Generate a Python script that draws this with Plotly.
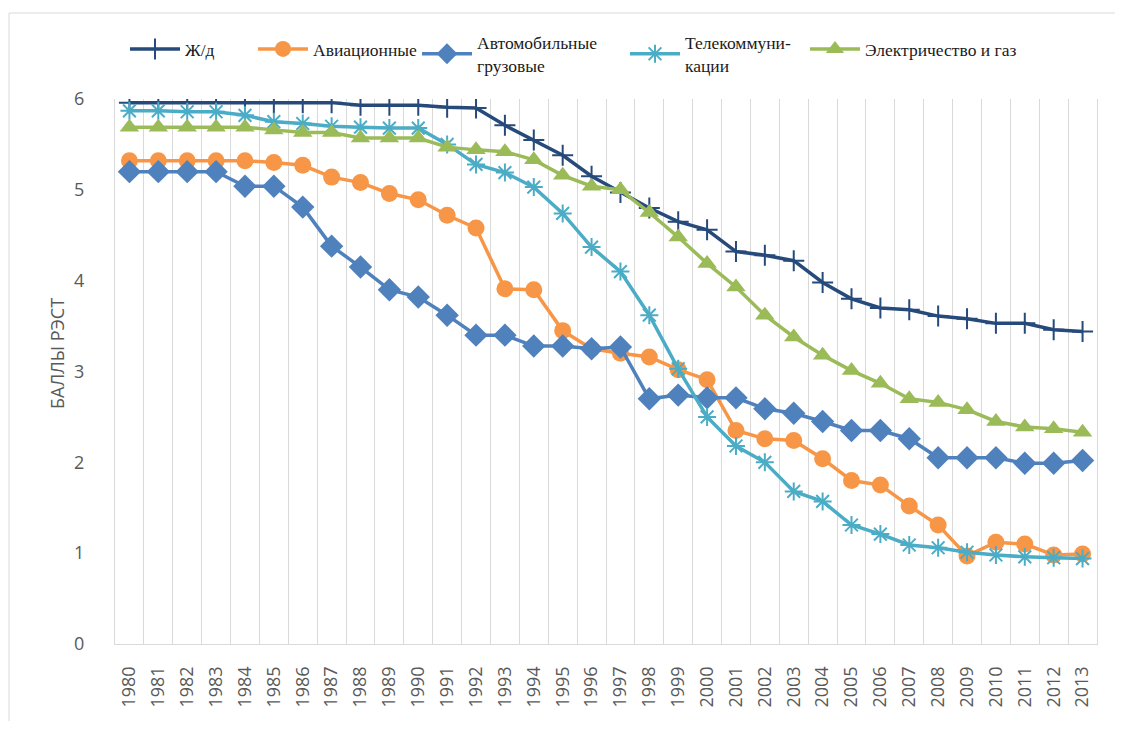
import plotly.graph_objects as go

years = [str(y) for y in range(1980, 2014)]

rail = [5.96, 5.96, 5.96, 5.96, 5.96, 5.96, 5.96, 5.96, 5.93, 5.93,
        5.93, 5.91, 5.90, 5.71, 5.55, 5.38, 5.15, 4.97, 4.80, 4.65,
        4.56, 4.32, 4.28, 4.22, 3.98, 3.80, 3.70, 3.68, 3.61, 3.58,
        3.53, 3.53, 3.46, 3.44]
aviation = [5.32, 5.32, 5.32, 5.32, 5.32, 5.30, 5.27, 5.14, 5.08, 4.96,
            4.89, 4.72, 4.58, 3.91, 3.90, 3.45, 3.25, 3.20, 3.16, 3.02,
            2.91, 2.35, 2.26, 2.24, 2.04, 1.80, 1.75, 1.52, 1.31, 0.97,
            1.12, 1.10, 0.98, 0.99]
trucks = [5.20, 5.20, 5.20, 5.20, 5.04, 5.04, 4.81, 4.38, 4.15, 3.90,
          3.82, 3.62, 3.40, 3.40, 3.28, 3.28, 3.25, 3.27, 2.70, 2.74,
          2.71, 2.71, 2.59, 2.54, 2.45, 2.35, 2.35, 2.26, 2.05, 2.05,
          2.05, 1.99, 1.99, 2.02]
telecom = [5.87, 5.87, 5.86, 5.86, 5.82, 5.75, 5.73, 5.70, 5.69, 5.68,
           5.68, 5.50, 5.28, 5.19, 5.03, 4.74, 4.37, 4.10, 3.62, 3.03,
           2.50, 2.18, 2.00, 1.68, 1.57, 1.31, 1.21, 1.09, 1.06, 1.01,
           0.98, 0.96, 0.95, 0.94]
electricity = [5.69, 5.69, 5.69, 5.69, 5.69, 5.66, 5.63, 5.63, 5.57, 5.57,
               5.57, 5.47, 5.44, 5.42, 5.33, 5.16, 5.04, 5.00, 4.75, 4.48,
               4.19, 3.93, 3.62, 3.38, 3.18, 3.01, 2.87, 2.70, 2.66, 2.58,
               2.45, 2.39, 2.37, 2.33]

series_names = ["Ж/д", "Авиационные", "Автомобильные<br>грузовые",
                "Телекоммуни-<br>кации", "Электричество и газ"]
y_title = "БАЛЛЫ РЭСТ"
y_ticks = [0, 1, 2, 3, 4, 5, 6]

series = [rail, aviation, trucks, telecom, electricity]
colors = ["#264A7A", "#F79646", "#4F81BD", "#4BACC6", "#9BBB59"]
symbols = ["cross-thin", "circle", "diamond", "asterisk", "triangle-up"]
msizes = [15, 17, 18, 15, 17]

# page offset (body margin) and figure size kept inside the window
OFF = 8
W, H = 1123 - 2 * OFF, 729 - 2 * OFF
# plot area in screen pixels
L, R, T, B = 115, 1097, 99, 644
pw, ph = R - L, B - T


def px_x(p):
    return (p - L) / pw


def px_y(p):
    return (B - p) / ph


legend_x_px = [125, 253, 417, 625, 805]
legend_y_px = [49, 49, 54, 54, 49]

fig = go.Figure()
for i, (vals, name) in enumerate(zip(series, series_names)):
    sym = symbols[i]
    open_sym = sym in ("cross-thin", "asterisk")
    marker = dict(symbol=sym, size=msizes[i], color=colors[i])
    if open_sym:
        marker["line"] = dict(color=colors[i], width=2)
    else:
        marker["line"] = dict(width=0)
    lg = "legend" if i == 0 else f"legend{i + 1}"
    fig.add_trace(go.Scatter(
        x=years, y=vals, name=name, mode="lines+markers",
        line=dict(color=colors[i], width=3.5),
        marker=marker, legend=lg,
    ))

legend_common = dict(
    orientation="h", xanchor="left", yanchor="middle",
    bgcolor="rgba(0,0,0,0)", borderwidth=0,
    font=dict(family="Liberation Serif, Times New Roman, serif", size=17.5,
              color="#1a1a1a"),
    itemwidth=50, valign="middle",
)
layout_legends = {}
for i in range(5):
    key = "legend" if i == 0 else f"legend{i + 1}"
    layout_legends[key] = dict(legend_common, x=px_x(legend_x_px[i]),
                               y=px_y(legend_y_px[i]))

border = dict(color="#D9D9D9", width=1)

fig.update_layout(
    width=W, height=H,
    margin=dict(l=L - OFF, r=(W + OFF) - R, t=T - OFF, b=(H + OFF) - B,
                pad=0),
    paper_bgcolor="white", plot_bgcolor="white",
    showlegend=True,
    **layout_legends,
    xaxis=dict(
        type="category", tickson="boundaries", showgrid=True,
        gridcolor="#D9D9D9", gridwidth=1.3,
        showline=True, linecolor="#D9D9D9", linewidth=1.3,
        ticks="", tickangle=-90, ticklabelstandoff=14,
        tickfont=dict(family="Open Sans", size=18, color="#595959"),
        range=[-0.5, 33.5], zeroline=False,
    ),
    yaxis=dict(
        range=[0, 6], tickvals=y_ticks, showgrid=False, zeroline=False,
        showline=True, mirror=True, linecolor="#D9D9D9", linewidth=1.3,
        ticks="", ticklabelstandoff=26,
        tickfont=dict(family="Open Sans", size=18, color="#595959"),
    ),
    annotations=[dict(
        text=y_title, textangle=-90, xref="paper", yref="paper",
        x=px_x(57), y=px_y(354), xanchor="center", yanchor="middle",
        showarrow=False,
        font=dict(family="Open Sans", size=18, color="#595959"),
    )],
    shapes=[
        dict(type="line", xref="paper", yref="paper",
             x0=px_x(9), x1=px_x(1140), y0=px_y(13), y1=px_y(13),
             line=border, layer="below"),
        dict(type="line", xref="paper", yref="paper",
             x0=px_x(9), x1=px_x(9), y0=px_y(13), y1=px_y(750),
             line=border, layer="below"),
    ],
)

fig.write_html("out.html")
